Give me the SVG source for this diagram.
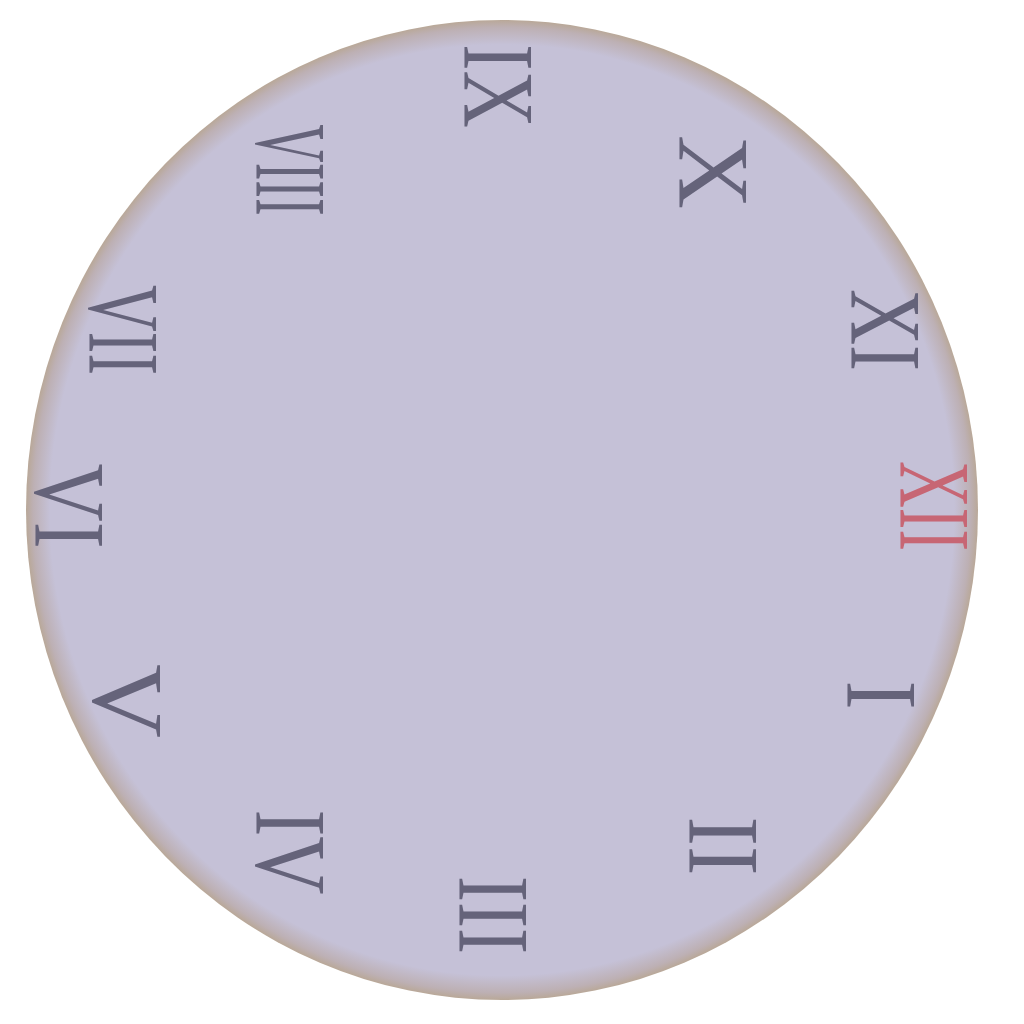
<svg xmlns="http://www.w3.org/2000/svg" width="1024" height="1024" viewBox="0 0 1024 1024">
<style>
.n{font-family:"Liberation Serif","Times New Roman",serif;font-size:102px;fill:#65637a;text-anchor:middle}
.red{fill:#c76674}
</style>
<defs>
<radialGradient id="face" cx="0.5" cy="0.5" r="0.5">
<stop offset="0" stop-color="#c5c1d7"/>
<stop offset="0.95" stop-color="#c5c1d7"/>
<stop offset="0.985" stop-color="#bdb0b4"/>
<stop offset="1" stop-color="#b9a898"/>
</radialGradient>
</defs>
<rect width="1024" height="1024" fill="#ffffff"/>
<g id="face-node"><ellipse cx="502" cy="510" rx="476" ry="490" fill="url(#face)"/></g>
<g id="n12"><text class="n red" transform="translate(900,506) rotate(90)" textLength="90" lengthAdjust="spacingAndGlyphs">XII</text></g>
<g id="n1"><text class="n" transform="translate(847,695) rotate(90)" textLength="29" lengthAdjust="spacingAndGlyphs">I</text></g>
<g id="n2"><text class="n" transform="translate(689,846) rotate(90)" textLength="59" lengthAdjust="spacingAndGlyphs">II</text></g>
<g id="n3"><text class="n" transform="translate(459,915) rotate(90)" textLength="78" lengthAdjust="spacingAndGlyphs">III</text></g>
<g id="n4"><text class="n" transform="translate(256,852) rotate(90)" textLength="85" lengthAdjust="spacingAndGlyphs">IV</text></g>
<g id="n5"><text class="n" transform="translate(93,701) rotate(90)" textLength="74" lengthAdjust="spacingAndGlyphs">V</text></g>
<g id="n6"><text class="n" transform="translate(35,506) rotate(90)" textLength="85" lengthAdjust="spacingAndGlyphs">VI</text></g>
<g id="n7"><text class="n" transform="translate(89,330) rotate(90)" textLength="90" lengthAdjust="spacingAndGlyphs">VII</text></g>
<g id="n8"><text class="n" transform="translate(256,170) rotate(90)" textLength="91" lengthAdjust="spacingAndGlyphs">VIII</text></g>
<g id="n9"><text class="n" transform="translate(464,86) rotate(90)" textLength="84" lengthAdjust="spacingAndGlyphs">IX</text></g>
<g id="n10"><text class="n" transform="translate(679,172) rotate(90)" textLength="74" lengthAdjust="spacingAndGlyphs">X</text></g>
<g id="n11"><text class="n" transform="translate(851,330) rotate(90)" textLength="82" lengthAdjust="spacingAndGlyphs">XI</text></g>
<g id="connectors"/>
</svg>
